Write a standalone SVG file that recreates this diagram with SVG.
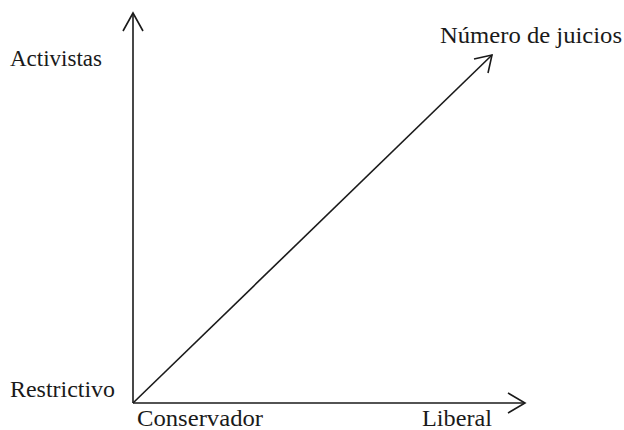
<svg xmlns="http://www.w3.org/2000/svg" width="624" height="430" viewBox="0 0 624 430">
<style>
text{font-family:'Liberation Serif','DejaVu Serif',serif;font-size:24px;fill:#1a1a1a}
.ax{stroke:#1a1a1a;stroke-width:1.6;fill:none}
.hd{stroke:#1a1a1a;stroke-width:1.6;fill:none;stroke-linejoin:miter}
</style>
<rect width="624" height="430" fill="#fff"/>
<g id="connectors">
<line class="ax" x1="133" y1="403" x2="133" y2="13"/>
<polyline class="hd" points="123,31 133,13 143,31"/>
<line class="ax" x1="133" y1="403" x2="524" y2="403"/>
<polyline class="hd" points="508,393 525,403 508,413"/>
<line class="ax" x1="133" y1="403" x2="492" y2="55"/>
<polyline class="hd" points="474,59 492,55 488,73"/>
</g>
<g id="activistas"><text x="10" y="66" font-family="Liberation Serif, serif" textLength="92" lengthAdjust="spacingAndGlyphs">Activistas</text></g>
<g id="restrictivo"><text x="10" y="397" font-family="Liberation Serif, serif" textLength="105" lengthAdjust="spacingAndGlyphs">Restrictivo</text></g>
<g id="conservador"><text x="137" y="426" font-family="Liberation Serif, serif" textLength="126" lengthAdjust="spacingAndGlyphs">Conservador</text></g>
<g id="liberal"><text x="422" y="426" font-family="Liberation Serif, serif" textLength="70" lengthAdjust="spacingAndGlyphs">Liberal</text></g>
<g id="numero"><text x="440" y="43" font-family="Liberation Serif, serif" textLength="182" lengthAdjust="spacingAndGlyphs">Número de juicios</text></g>
</svg>
